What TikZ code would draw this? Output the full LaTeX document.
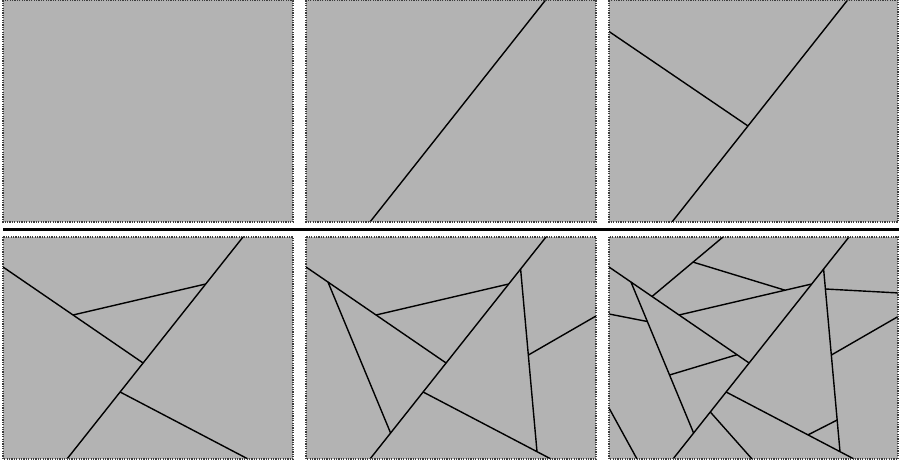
\documentclass[tikz,border=0pt]{standalone}
\definecolor{panelgray}{RGB}{179,179,179}
\definecolor{framegray}{RGB}{60,60,60}
\begin{document}
\begin{tikzpicture}[x=0.5pt,y=-0.5pt,
  panelbox/.style={fill=panelgray, draw=framegray, line width=0.55pt, dash pattern=on 0.6pt off 0.6pt},
  cut/.style={line width=0.7pt, line cap=butt},
  sepline/.style={line width=1.8pt}]
\useasboundingbox (0,0) rectangle (899,464);

% separator
\coordinate (sepL) at (3,229.6);
\coordinate (sepR) at (899,229.6);
\draw[sepline] (sepL) -- (sepR);

% ---------- top row ----------
% panel 1
\begin{scope}[shift={(3,0.5)}]
  \draw[panelbox] (0,0) rectangle (290,221.5);
\end{scope}
% panel 2
\begin{scope}[shift={(306,0.5)}]
  \draw[panelbox] (0,0) rectangle (290,221.5);
  \clip (0,0) rectangle (290,221.5);
  \coordinate (a2) at (64,221.5); \coordinate (b2) at (240,-1);
  \draw[cut] (a2) -- (b2);
\end{scope}
% panel 3
\begin{scope}[shift={(609,0.5)}]
  \draw[panelbox] (0,0) rectangle (289,221.5);
  \clip (0,0) rectangle (289,221.5);
  \coordinate (a3) at (63,221.5); \coordinate (b3) at (239,-1);
  \coordinate (l2s3) at (0,31); \coordinate (l2e3) at (139,125.5);
  \draw[cut] (a3) -- (b3);
  \draw[cut] (l2s3) -- (l2e3);
\end{scope}

% ---------- bottom row ----------
% panel 4
\begin{scope}[shift={(3,237)}]
  \draw[panelbox] (0,0) rectangle (290,222);
  \clip (0,0) rectangle (290,222);
  \coordinate (A4) at (64,222); \coordinate (B4) at (240,0);
  \coordinate (P4) at (140.1,126); \coordinate (Q4) at (0,30);
  \coordinate (R4) at (70,78); \coordinate (S4) at (202.7,47);
  \coordinate (T4) at (117.1,155); \coordinate (U4) at (245,222);
  \draw[cut] (A4) -- (B4);
  \draw[cut] (Q4) -- (P4);
  \draw[cut] (R4) -- (S4);
  \draw[cut] (T4) -- (U4);
\end{scope}
% panel 5
\begin{scope}[shift={(306,237)}]
  \draw[panelbox] (0,0) rectangle (290,222);
  \clip (0,0) rectangle (290,222);
  \coordinate (A5) at (64,222); \coordinate (B5) at (240,0);
  \coordinate (P5) at (140.1,126); \coordinate (Q5) at (0,30);
  \coordinate (R5) at (70,78); \coordinate (S5) at (202.7,47);
  \coordinate (T5) at (117.1,155); \coordinate (U5) at (245,222);
  \coordinate (V5) at (22,45.1); \coordinate (W5) at (84.6,196);
  \coordinate (X5) at (214.6,32); \coordinate (Y5) at (231,214.7);
  \coordinate (Z5) at (222.4,118); \coordinate (E5) at (290,79);
  \draw[cut] (A5) -- (B5);
  \draw[cut] (Q5) -- (P5);
  \draw[cut] (R5) -- (S5);
  \draw[cut] (T5) -- (U5);
  \draw[cut] (V5) -- (W5);
  \draw[cut] (X5) -- (Y5);
  \draw[cut] (Z5) -- (E5);
\end{scope}
% panel 6
\begin{scope}[shift={(609,237)}]
  \draw[panelbox] (0,0) rectangle (289,222);
  \clip (0,0) rectangle (289,222);
  \coordinate (A6) at (64,222); \coordinate (B6) at (240,0);
  \coordinate (P6) at (140.1,126); \coordinate (Q6) at (0,30);
  \coordinate (R6) at (70,78); \coordinate (S6) at (202.7,47);
  \coordinate (T6) at (117.1,155); \coordinate (U6) at (245,222);
  \coordinate (V6) at (22,45.1); \coordinate (W6) at (84.6,196);
  \coordinate (X6) at (214.6,32); \coordinate (Y6) at (231,214.7);
  \coordinate (Z6) at (222.4,118); \coordinate (E6) at (290,79);
  \coordinate (F6) at (43,59.5); \coordinate (G6) at (114,0);
  \coordinate (H6) at (84,25.1); \coordinate (I6) at (176,53.2);
  \coordinate (J6) at (0,77); \coordinate (K6) at (38.3,84.5);
  \coordinate (L6) at (216.4,52); \coordinate (M6) at (290,56);
  \coordinate (N6) at (60.5,138); \coordinate (O6) at (128,117.7);
  \coordinate (C6) at (101.3,175); \coordinate (D6) at (143,222);
  \coordinate (g6) at (0,171); \coordinate (h6) at (28,222);
  \coordinate (i6) at (199,197.9); \coordinate (j6) at (228.2,183);
  \draw[cut] (A6) -- (B6);
  \draw[cut] (Q6) -- (P6);
  \draw[cut] (R6) -- (S6);
  \draw[cut] (T6) -- (U6);
  \draw[cut] (V6) -- (W6);
  \draw[cut] (X6) -- (Y6);
  \draw[cut] (Z6) -- (E6);
  \draw[cut] (F6) -- (G6);
  \draw[cut] (H6) -- (I6);
  \draw[cut] (J6) -- (K6);
  \draw[cut] (L6) -- (M6);
  \draw[cut] (N6) -- (O6);
  \draw[cut] (C6) -- (D6);
  \draw[cut] (g6) -- (h6);
  \draw[cut] (i6) -- (j6);
\end{scope}
% redraw frames on top of clipped lines
\begin{scope}[shift={(306,0.5)}]\draw[panelbox,fill=none] (0,0) rectangle (290,221.5);\end{scope}
\begin{scope}[shift={(609,0.5)}]\draw[panelbox,fill=none] (0,0) rectangle (289,221.5);\end{scope}
\begin{scope}[shift={(3,237)}]\draw[panelbox,fill=none] (0,0) rectangle (290,222);\end{scope}
\begin{scope}[shift={(306,237)}]\draw[panelbox,fill=none] (0,0) rectangle (290,222);\end{scope}
\begin{scope}[shift={(609,237)}]\draw[panelbox,fill=none] (0,0) rectangle (289,222);\end{scope}
\end{tikzpicture}
\end{document}
